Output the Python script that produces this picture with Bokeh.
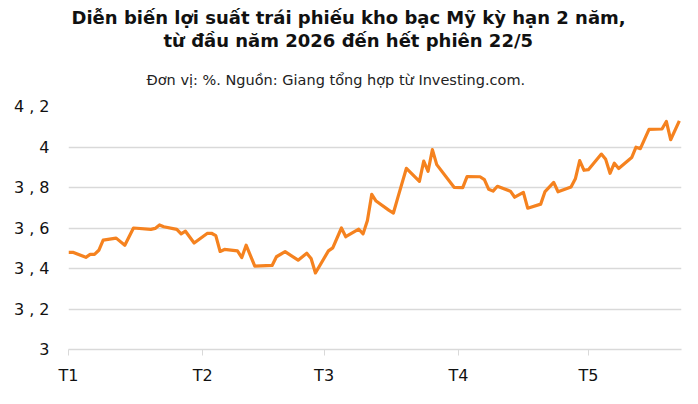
import pandas as pd
from bokeh.plotting import figure
from bokeh.models import ColumnDataSource, FixedTicker, Title
from bokeh.embed import file_html
from bokeh.resources import INLINE

# Lợi suất trái phiếu kho bạc Mỹ kỳ hạn 2 năm (%)
dates = [
    "2026-01-01", "2026-01-02", "2026-01-05", "2026-01-06", "2026-01-07", "2026-01-08",
    "2026-01-09", "2026-01-12", "2026-01-14", "2026-01-16", "2026-01-20", "2026-01-21",
    "2026-01-22", "2026-01-23", "2026-01-26", "2026-01-27", "2026-01-28", "2026-01-30",
    "2026-02-02", "2026-02-03", "2026-02-04", "2026-02-05", "2026-02-06", "2026-02-09",
    "2026-02-10", "2026-02-11", "2026-02-13", "2026-02-17", "2026-02-18", "2026-02-20",
    "2026-02-23", "2026-02-25", "2026-02-26", "2026-02-27", "2026-03-02", "2026-03-03",
    "2026-03-05", "2026-03-06", "2026-03-09", "2026-03-10", "2026-03-11", "2026-03-12",
    "2026-03-13", "2026-03-16", "2026-03-17", "2026-03-18", "2026-03-20", "2026-03-23",
    "2026-03-24", "2026-03-25", "2026-03-26", "2026-03-27", "2026-03-31", "2026-04-02",
    "2026-04-03", "2026-04-06", "2026-04-07", "2026-04-08", "2026-04-09", "2026-04-10",
    "2026-04-13", "2026-04-14", "2026-04-16", "2026-04-17", "2026-04-20", "2026-04-21",
    "2026-04-23", "2026-04-24", "2026-04-27", "2026-04-28", "2026-04-29", "2026-04-30",
    "2026-05-01", "2026-05-04", "2026-05-05", "2026-05-06", "2026-05-07", "2026-05-08",
    "2026-05-11", "2026-05-12", "2026-05-13", "2026-05-15", "2026-05-18", "2026-05-19",
    "2026-05-20", "2026-05-22",
]
yields = [
    3.48, 3.48, 3.455, 3.47, 3.47, 3.49,
    3.54, 3.55, 3.515, 3.60, 3.593, 3.598,
    3.615, 3.606, 3.593, 3.571, 3.584, 3.526,
    3.573, 3.574, 3.562, 3.484, 3.494, 3.487,
    3.454, 3.515, 3.412, 3.415, 3.458, 3.483,
    3.441, 3.475, 3.449, 3.378, 3.487, 3.502,
    3.60, 3.557, 3.594, 3.571, 3.637, 3.766,
    3.733, 3.687, 3.674, 3.749, 3.895, 3.830,
    3.930, 3.880, 3.987, 3.913, 3.801, 3.799,
    3.854, 3.853, 3.839, 3.791, 3.782, 3.806,
    3.782, 3.752, 3.776, 3.698, 3.718, 3.780,
    3.825, 3.779, 3.802, 3.843, 3.933, 3.885,
    3.888, 3.965, 3.939, 3.870, 3.920, 3.894,
    3.948, 3.999, 3.992, 4.087, 4.089, 4.126,
    4.036, 4.129,
]

month_labels = ["T1", "T2", "T3", "T4", "T5"]
month_starts = ["2026-01-01", "2026-02-01", "2026-03-01", "2026-04-01", "2026-05-01"]
y_ticks = [3.0, 3.2, 3.4, 3.6, 3.8, 4.0, 4.2]
y_labels = ["3", "3 , 2", "3 , 4", "3 , 6", "3 , 8", "4", "4 , 2"]

origin = pd.Timestamp("2026-01-01")
day = [(pd.Timestamp(d) - origin).days for d in dates]
month_day = [(pd.Timestamp(d) - origin).days for d in month_starts]

source = ColumnDataSource(data=dict(day=day, value=yields))

p = figure(width=698, height=404, x_range=(0, 141.5), y_range=(3, 4.2),
           output_backend="svg", toolbar_location=None,
           min_border_left=68, min_border_right=17, min_border_bottom=55, min_border_top=0)
p.outline_line_color = None
p.background_fill_color = "white"

# Tiêu đề và chú thích nguồn (căn trái theo khung, dịch bằng offset)
sub = Title(text="Đơn vị: %. Nguồn: Giang tổng hợp từ Investing.com.", align="left",
            text_font="DejaVu Sans", text_font_size="14.5px", text_font_style="normal",
            text_color="#222222", offset=78, standoff=38)
t2 = Title(text="từ đầu năm 2026 đến hết phiên 22/5", align="left",
           text_font="DejaVu Sans", text_font_size="18px", text_font_style="bold",
           text_color="#111111", offset=95, standoff=0)
t1 = Title(text="Diễn biến lợi suất trái phiếu kho bạc Mỹ kỳ hạn 2 năm,", align="left",
           text_font="DejaVu Sans", text_font_size="18px", text_font_style="bold",
           text_color="#111111", offset=3, standoff=0)
spacer = Title(text=" ", text_font_size="1px", standoff=1)
p.add_layout(sub, "above")
p.add_layout(t2, "above")
p.add_layout(t1, "above")
p.add_layout(spacer, "above")

p.line(x="day", y="value", source=source, line_color="#F5821F", line_width=3.2,
       line_join="round")

# Trục
p.xaxis.ticker = FixedTicker(ticks=month_day)
p.xaxis.major_label_overrides = dict(zip(month_day, month_labels))
p.xaxis.axis_line_color = "#d9d9d9"
p.xaxis.axis_line_width = 1.5
p.xaxis.major_tick_line_color = "#d9d9d9"
p.xaxis.major_tick_in = 0
p.xaxis.major_tick_out = 6
p.xaxis.minor_tick_line_color = None
p.xaxis.major_label_text_font = "DejaVu Sans"
p.xaxis.major_label_text_font_size = "16px"
p.xaxis.major_label_text_color = "#111111"
p.xaxis.major_label_standoff = 10

p.yaxis.ticker = FixedTicker(ticks=y_ticks)
p.yaxis.major_label_overrides = dict(zip(y_ticks, y_labels))
p.yaxis.axis_line_color = None
p.yaxis.major_tick_line_color = None
p.yaxis.minor_tick_line_color = None
p.yaxis.major_label_text_font = "DejaVu Sans"
p.yaxis.major_label_text_font_size = "16px"
p.yaxis.major_label_text_color = "#111111"
p.yaxis.major_label_standoff = 13

p.xgrid.grid_line_color = None
p.ygrid.ticker = FixedTicker(ticks=y_ticks[1:])
p.ygrid.grid_line_color = "#d9d9d9"
p.ygrid.grid_line_width = 1.5

open("out.html", "w").write(file_html(p, INLINE))
